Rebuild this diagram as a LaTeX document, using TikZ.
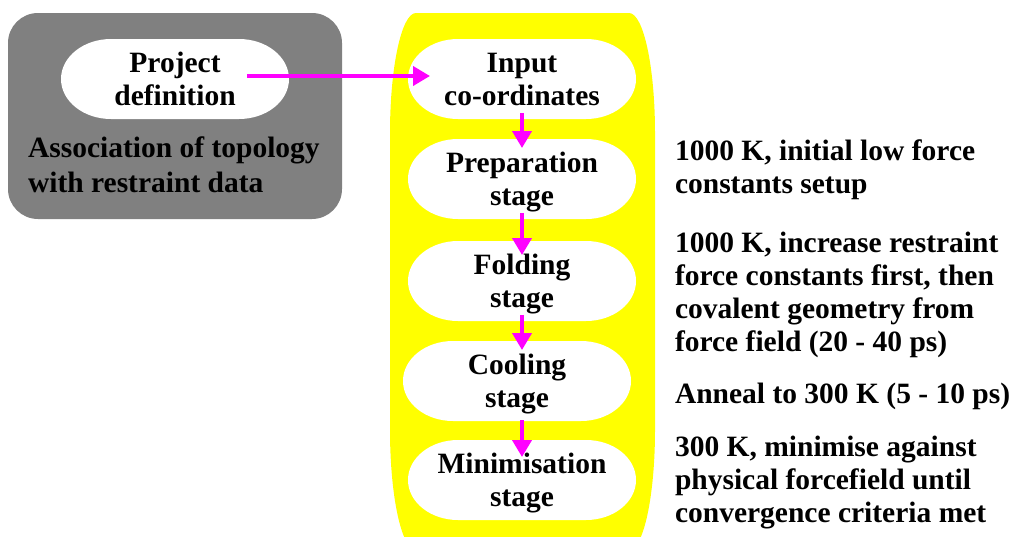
\documentclass[tikz,border=0pt]{standalone}
\usepackage{fontspec}
\setmainfont{Liberation Serif}
\usetikzlibrary{arrows.meta}
\definecolor{boxgray}{RGB}{128,128,128}
\definecolor{stageyellow}{RGB}{255,255,0}
\definecolor{flowmagenta}{RGB}{255,0,255}
\newcommand\stageshape[1]{%
  \fill[white,shift={(#1)},x=1pt,y=1pt] (-64,40) -- (64,40)
    .. controls (91.6,40) and (114,22.1) .. (114,0)
    .. controls (114,-22.1) and (91.6,-40) .. (64,-40) -- (-64,-40)
    .. controls (-91.6,-40) and (-114,-22.1) .. (-114,0)
    .. controls (-114,22.1) and (-91.6,40) .. cycle;}
\begin{document}
\begin{tikzpicture}[x=1pt,y=-1pt,
  txt/.style={font=\fontsize{29.5}{33}\selectfont\bfseries, inner sep=0pt, outer sep=0pt},
  stagebox/.style={txt, align=center, minimum width=228pt, minimum height=80pt, text depth=0pt},
  note/.style={txt, align=left, anchor=base west},
  flow/.style={draw=flowmagenta, line width=4pt, -{Triangle[length=17pt,width=19pt]}}
]
\useasboundingbox (0,0) rectangle (1013,536);
% yellow pipeline background
\begin{scope}
\clip (0,0) rectangle (1013,536);
\fill[stageyellow] (416,13) -- (629,13) .. controls (643.4,13) and (655,66.7) .. (655,133)
  -- (655,430) .. controls (655,496.3) and (643.4,550) .. (629,550)
  -- (416,550) .. controls (401.6,550) and (390,496.3) .. (390,430)
  -- (390,133) .. controls (390,66.7) and (401.6,13) .. cycle;
\end{scope}
% grey box
\node[fill=boxgray, rounded corners=30pt, minimum width=334pt, minimum height=206pt, inner sep=0pt] (assoc) at (175,116) {};
% stage positions
\coordinate (cproj) at (175,79);
\coordinate (cinp) at (522,79);
\coordinate (cprep) at (522,179);
\coordinate (cfold) at (522,281);
\coordinate (ccool) at (517,381);
\coordinate (cmin) at (522,480);
\stageshape{cproj}
\stageshape{cinp}
\stageshape{cprep}
\stageshape{cfold}
\stageshape{ccool}
\stageshape{cmin}
\node[stagebox] (proj) at (cproj) {Project\\definition};
\node[stagebox] (inp) at (cinp) {Input\\co-ordinates};
\node[stagebox] (prep) at (cprep) {Preparation\\stage};
\node[stagebox] (fold) at (cfold) {Folding\\stage};
\node[stagebox] (cool) at (ccool) {Cooling\\stage};
\node[stagebox] (min) at (cmin) {Minimisation\\stage};
% texts (anchored at the baseline of their last line)
\node[note, font=\fontsize{29.5}{35}\selectfont\bfseries] (assoctext) at (28,192) {Association of topology\\with restraint data};
\node[note] (n1) at (675,193) {1000 K, initial low force\\constants setup};
\node[note] (n2) at (675,351) {1000 K, increase restraint\\force constants first, then\\covalent geometry from\\force field (20 - 40 ps)};
\node[note] (n3) at (675,403) {Anneal to 300 K (5 - 10 ps)};
\node[note] (n4) at (675,522) {300 K, minimise against\\physical forcefield until\\convergence criteria met};
% arrows
\draw[flow] ([xshift=72pt,yshift=3pt]proj.center) -- ([xshift=22pt,yshift=3pt]inp.west);
\draw[flow] ([yshift=6pt]inp.south) -- ([yshift=-9pt]prep.north);
\draw[flow] ([yshift=6pt]prep.south) -- ([yshift=-14pt]fold.north);
\draw[flow] ([yshift=6pt]fold.south) -- ([xshift=5pt,yshift=-9pt]cool.north);
\draw[flow] ([xshift=5pt,yshift=1pt]cool.south) -- ([yshift=-17pt]min.north);
\end{tikzpicture}
\end{document}
